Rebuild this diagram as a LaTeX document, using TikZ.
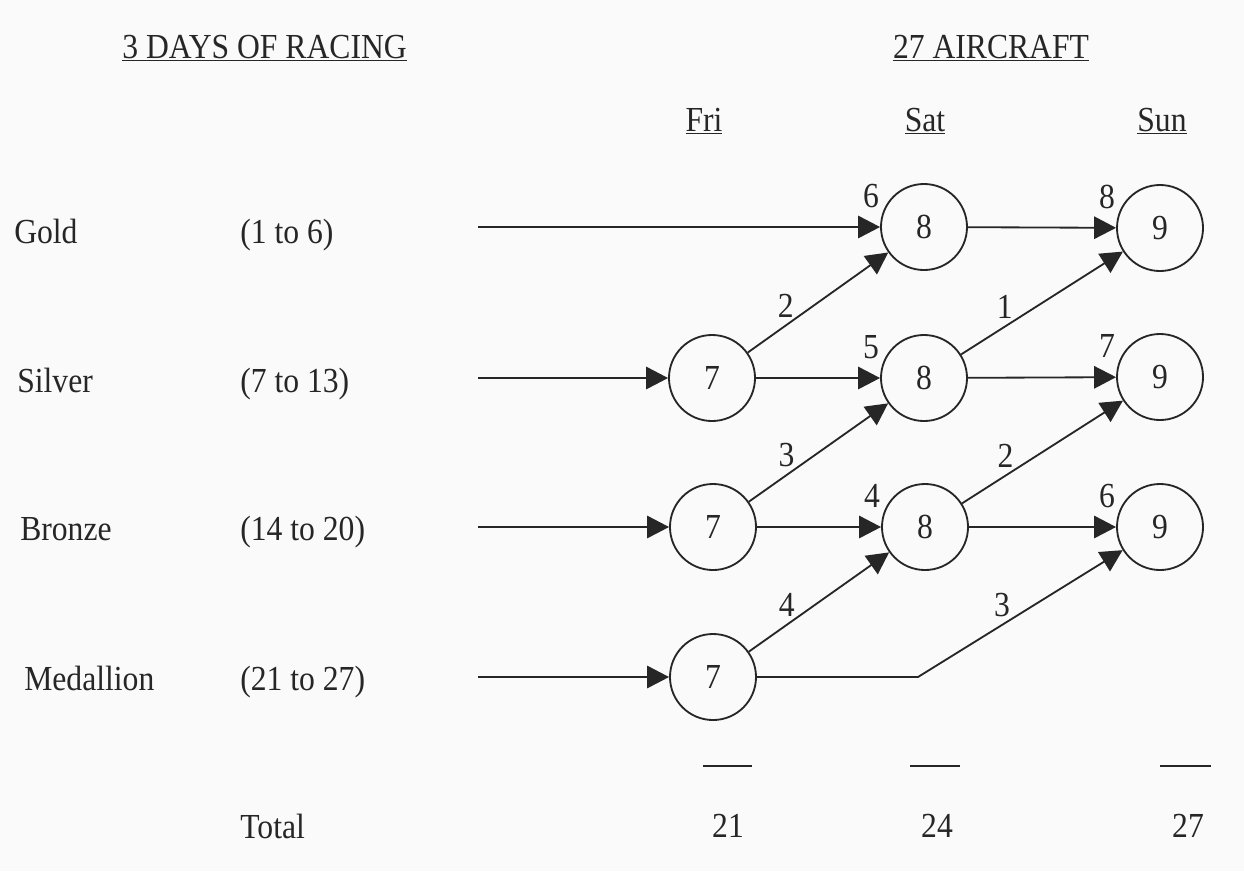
\documentclass[tikz,border=0pt]{standalone}
\usepackage{fontspec}
\setmainfont{Liberation Serif}[FakeStretch=0.9]
\usetikzlibrary{arrows.meta}

\begin{document}
\begin{tikzpicture}[x=0.025cm,y=-0.025cm,
    every node/.style={font=\fontsize{25}{29}\selectfont, text=black!85},
    ring/.style={draw=black!85, line width=1.3pt, circle, minimum size=2.15cm, inner sep=0pt},
    flow/.style={draw=black!85, line width=1.3pt, -{Triangle[length=0.55cm,width=0.56cm]}},
    lbl/.style={inner sep=1pt},
    row/.style={anchor=base west, inner sep=0pt},
    day/.style={anchor=base, inner sep=0pt}]
    \useasboundingbox (0,0) rectangle (1244,871);
    \fill[gray!4] (0,0) rectangle (1244,871);
    \node[row] (hdays) at (122,58) {\underline{3 DAYS OF RACING}};
    \node[day] (hcraft) at (991,58) {\underline{27 AIRCRAFT}};
    \node[day] (fri) at (704,131) {\underline{Fri}};
    \node[day] (sat) at (925,131) {\underline{Sat}};
    \node[day] (sun) at (1162,131) {\underline{Sun}};
    \node[row] (gold) at (14,243) {Gold};
    \node[row] (silver) at (17,392) {Silver};
    \node[row] (bronze) at (20,540) {Bronze};
    \node[row] (medal) at (24,690) {Medallion};
    \node[row] (rgold) at (240,243) {(1 to 6)};
    \node[row] (rsilver) at (240,392) {(7 to 13)};
    \node[row] (rbronze) at (240,540) {(14 to 20)};
    \node[row] (rmedal) at (240,690) {(21 to 27)};
    \node[row] (total) at (240,838) {Total};
    \coordinate (g0) at (478,227);
    \coordinate (s0) at (478,378);
    \coordinate (b0) at (478,527);
    \coordinate (m0) at (478,677);
    \coordinate (bend) at (918,677);
    \node[ring] (fs) at (712,378) {7};
    \node[ring] (fb) at (713,527) {7};
    \node[ring] (fm) at (713,677) {7};
    \node[ring, label={[lbl, label distance=2pt]158:6}] (sg) at (924,227) {8};
    \node[ring, label={[lbl, label distance=2pt]158:5}] (ss) at (924,378) {8};
    \node[ring, label={[lbl, label distance=2pt]158:4}] (sb) at (925,527) {8};
    \node[ring, label={[lbl, label distance=2pt]158:8}] (ug) at (1160,228) {9};
    \node[ring, label={[lbl, label distance=2pt]158:7}] (us) at (1160,377) {9};
    \node[ring, label={[lbl, label distance=2pt]158:6}] (ub) at (1160,527) {9};
    \draw[flow] (g0) -- (sg);
    \draw[flow] (s0) -- (fs);
    \draw[flow] (b0) -- (fb);
    \draw[flow] (m0) -- (fm);
    \draw[flow] (fs) -- (ss);
    \draw[flow] (fb) -- (sb);
    \draw[flow] (sg) -- (ug);
    \draw[flow] (ss) -- (us);
    \draw[flow] (sb) -- (ub);
    \draw[flow] (fs) -- node[lbl, pos=.27, above=4pt] (e2) {2} (sg);
    \draw[flow] (fb) -- node[lbl, pos=.27, above=4pt] (e3) {3} (ss);
    \draw[flow] (fm) -- node[lbl, pos=.27, above=4pt] (e4) {4} (sb);
    \draw[flow] (ss) -- node[lbl, pos=.27, above=4pt] (e1) {1} (ug);
    \draw[flow] (sb) -- node[lbl, pos=.27, above=4pt] (e2b) {2} (us);
    \draw[flow] (fm) -- (bend) -- node[lbl, pos=.41, above=4pt] (e3b) {3} (ub);
    \draw[line width=1pt, black!85] (703,766) -- (752,766);
    \draw[line width=1pt, black!85] (910,766) -- (960,766);
    \draw[line width=1pt, black!85] (1160,766) -- (1211,766);
    \node (t21) at (728,826) {21};
    \node (t24) at (937,826) {24};
    \node (t27) at (1188,826) {27};
  \end{tikzpicture}
\end{document}
